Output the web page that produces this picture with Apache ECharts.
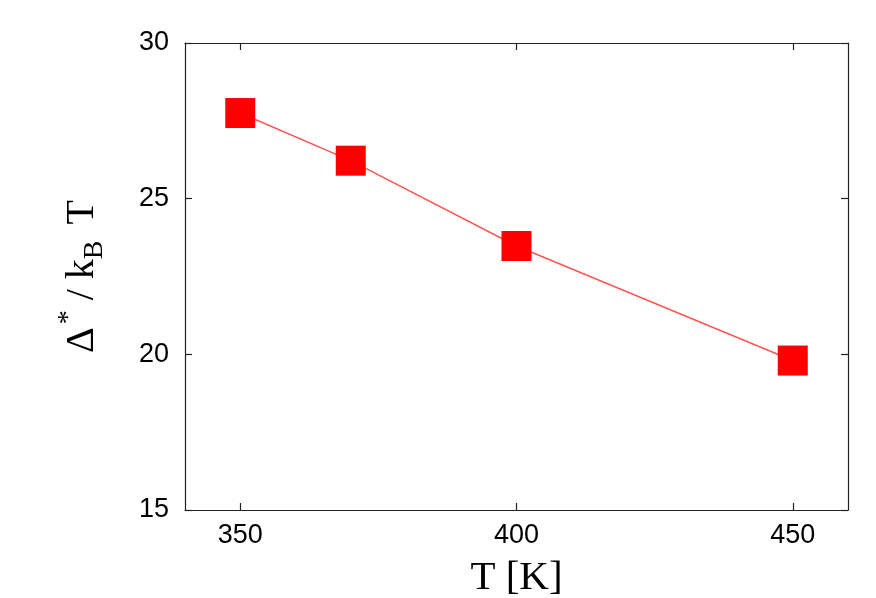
<!DOCTYPE html>
<html><head><meta charset="utf-8">
<script src="https://cdn.jsdelivr.net/npm/echarts@6/dist/echarts.min.js"></script>
<style>html,body{margin:0;padding:0;background:#fff}#c{width:876px;height:598px}</style>
</head><body><div id="c"></div>
<script>
const temps = [350, 370, 400, 450];
const barrier = [27.75, 26.22, 23.48, 19.8];
const xTicks = [350, 400, 450];
const yTicks = [15, 20, 25, 30];

const chart = echarts.init(document.getElementById('c'));
const axisLine = {show: true, lineStyle: {color: '#222', width: 1.2}};
const tickStyle = {show: true, inside: true, length: 7, lineStyle: {color: '#222', width: 1.2}};
const labelFont = {fontFamily: 'Liberation Sans, Arial, sans-serif', fontSize: 27, color: '#000'};
const serif = 'Liberation Serif, Times New Roman, serif';
chart.setOption({
  animation: false,
  grid: {left: 185, right: 28, top: 43, bottom: 88, outerBoundsMode: 'none', containLabel: false},
  xAxis: [{
    type: 'value', min: 340, max: 460, interval: 10,
    axisLine: axisLine,
    axisTick: Object.assign({}, tickStyle, {customValues: xTicks}),
    axisLabel: Object.assign({}, labelFont, {margin: 12, customValues: xTicks}),
    splitLine: {show: false},
    name: 'T [K]', nameLocation: 'middle', nameGap: 48,
    nameTextStyle: {fontFamily: serif, fontSize: 41, color: '#000', verticalAlign: 'top'}
  }, {
    type: 'value', min: 340, max: 460, position: 'top',
    axisLine: axisLine,
    axisTick: Object.assign({}, tickStyle, {customValues: xTicks}),
    axisLabel: {show: false}, splitLine: {show: false}
  }],
  yAxis: [{
    type: 'value', min: 15, max: 30, interval: 5,
    axisLine: axisLine,
    axisTick: tickStyle,
    axisLabel: Object.assign({}, labelFont, {margin: 16}),
    splitLine: {show: false},
    name: '{a|Δ}{sup|*}{a| / k}{sub|B}{a| T}', nameLocation: 'middle', nameGap: 76, nameRotate: 90,
    nameTextStyle: {
      fontFamily: serif, fontSize: 40, color: '#000',
      rich: {
        a: {fontFamily: serif, fontSize: 40, color: '#000', verticalAlign: 'middle', lineHeight: 54},
        sup: {fontFamily: serif, fontSize: 28, color: '#000', verticalAlign: 'top', padding: [0, 0, 0, 3], lineHeight: 54},
        sub: {fontFamily: serif, fontSize: 28, color: '#000', verticalAlign: 'bottom', padding: [0, 6, 0, 0], lineHeight: 54}
      }
    }
  }, {
    type: 'value', min: 15, max: 30, interval: 5, position: 'right',
    axisLine: axisLine, axisTick: tickStyle,
    axisLabel: {show: false}, splitLine: {show: false}
  }],
  series: [{
    type: 'line',
    data: temps.map((t, i) => [t, barrier[i]]),
    symbol: 'rect', symbolSize: 30,
    itemStyle: {color: '#ff0000'},
    lineStyle: {color: '#ff5555', width: 1.5}
  }]
});
</script></body></html>
